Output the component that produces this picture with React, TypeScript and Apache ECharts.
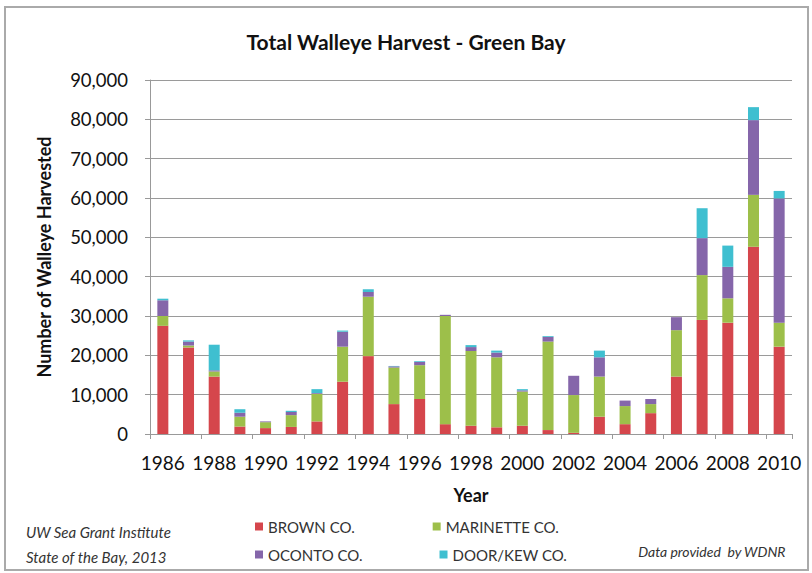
import React, { useEffect, useRef } from "react";
import * as echarts from "echarts";

const years = ["1986","1987","1988","1989","1990","1991","1992","1993","1994","1995","1996","1997","1998","1999","2000","2001","2002","2003","2004","2005","2006","2007","2008","2009","2010"];
const brown = [27500, 22000, 14600, 1900, 1500, 1800, 3200, 13300, 19800, 7600, 8900, 2500, 2100, 1700, 2100, 1000, 300, 4400, 2500, 5300, 14600, 29000, 28300, 47600, 22200];
const marinette = [2500, 500, 1300, 2500, 1500, 3000, 7000, 8900, 15100, 9300, 8600, 27500, 19000, 17800, 8700, 22500, 9600, 10200, 4600, 2300, 11800, 11400, 6200, 13200, 6100];
const oconto = [4000, 1000, 300, 1000, 200, 800, 200, 3800, 1200, 300, 800, 300, 1000, 1200, 300, 1200, 4900, 4900, 1400, 1300, 3300, 9400, 8000, 19000, 31600];
const door = [400, 300, 6500, 900, 0, 300, 1000, 300, 700, 100, 200, 0, 500, 500, 300, 200, 0, 1700, 0, 0, 0, 7600, 5400, 3300, 1900];

const seriesNames = ["BROWN CO.", "MARINETTE CO.", "OCONTO CO.", "DOOR/KEW CO."];
const colors = ["#d5464c", "#9dbf4a", "#8566aa", "#3fbfd0"];

const FONT = "Lato, 'Open Sans', sans-serif";

export default function App() {
  const ref = useRef<HTMLDivElement>(null);
  useEffect(() => {
    if (!ref.current) return;
    const chart = echarts.init(ref.current, null, { renderer: "svg" });
    const dataSets = [brown, marinette, oconto, door];
    chart.setOption({
      animation: false,
      backgroundColor: "#ffffff",
      title: {
        text: "Total Walleye Harvest - Green Bay",
        left: "center",
        top: 26,
        textStyle: { fontFamily: FONT, fontSize: 21, fontWeight: "bold", color: "#111" },
      },
      grid: { left: 150, right: 20, top: 80, bottom: 139 },
      legend: [
        {
          data: [seriesNames[0], seriesNames[1]],
          left: 250,
          top: 514,
          itemWidth: 8,
          itemHeight: 8,
          itemGap: 78,
          icon: "rect",
          textStyle: { fontFamily: FONT, fontSize: 15, color: "#333" },
        },
        {
          data: [seriesNames[2], seriesNames[3]],
          left: 250,
          top: 542,
          itemWidth: 8,
          itemHeight: 8,
          itemGap: 77,
          icon: "rect",
          textStyle: { fontFamily: FONT, fontSize: 15, color: "#333" },
        },
      ],
      xAxis: {
        type: "category",
        data: years,
        name: "Year",
        nameLocation: "middle",
        nameGap: 52,
        nameTextStyle: { fontFamily: FONT, fontSize: 18, fontWeight: "bold", color: "#111" },
        axisLine: { lineStyle: { color: "#999" } },
        axisTick: { show: true, alignWithLabel: false, length: 5, lineStyle: { color: "#999" } },
        axisLabel: { interval: 1, fontFamily: FONT, fontSize: 19, color: "#111", margin: 19 },
      },
      yAxis: {
        type: "value",
        min: 0,
        max: 90000,
        interval: 10000,
        name: "Number of Walleye Harvested",
        nameLocation: "middle",
        nameGap: 97,
        nameTextStyle: { fontFamily: FONT, fontSize: 18, fontWeight: "bold", color: "#111" },
        axisLine: { show: true, lineStyle: { color: "#999" } },
        axisTick: { show: true, length: 5, lineStyle: { color: "#999" } },
        splitLine: { lineStyle: { color: "#9a9a9a", width: 1 } },
        axisLabel: {
          fontFamily: FONT,
          fontSize: 18.5,
          color: "#111",
          margin: 22,
          formatter: (v: number) => v.toLocaleString("en-US"),
        },
      },
      series: dataSets.map((d, i) => ({
        name: seriesNames[i],
        type: "bar",
        stack: "total",
        barWidth: 11,
        data: d,
        itemStyle: { color: colors[i] },
      })),
      graphic: [
        {
          type: "rect",
          shape: { x: 5, y: 7, width: 803, height: 563 },
          style: { fill: "none", stroke: "#aaa", lineWidth: 2 },
          silent: true,
        },
        {
          type: "text",
          left: 26,
          top: 524,
          style: { text: "UW Sea Grant Institute", font: `italic 15px ${FONT}`, fill: "#333" },
        },
        {
          type: "text",
          left: 26,
          top: 549,
          style: { text: "State of the Bay, 2013", font: `italic 15px ${FONT}`, fill: "#333" },
        },
        {
          type: "text",
          right: 26,
          top: 544,
          style: { text: "Data provided  by WDNR", font: `italic 14px ${FONT}`, fill: "#333" },
        },
      ],
    });
    return () => chart.dispose();
  }, []);
  return (
    <div
      ref={ref}
      style={{ position: "absolute", left: 0, top: 0, width: 812, height: 573 }}
    />
  );
}
